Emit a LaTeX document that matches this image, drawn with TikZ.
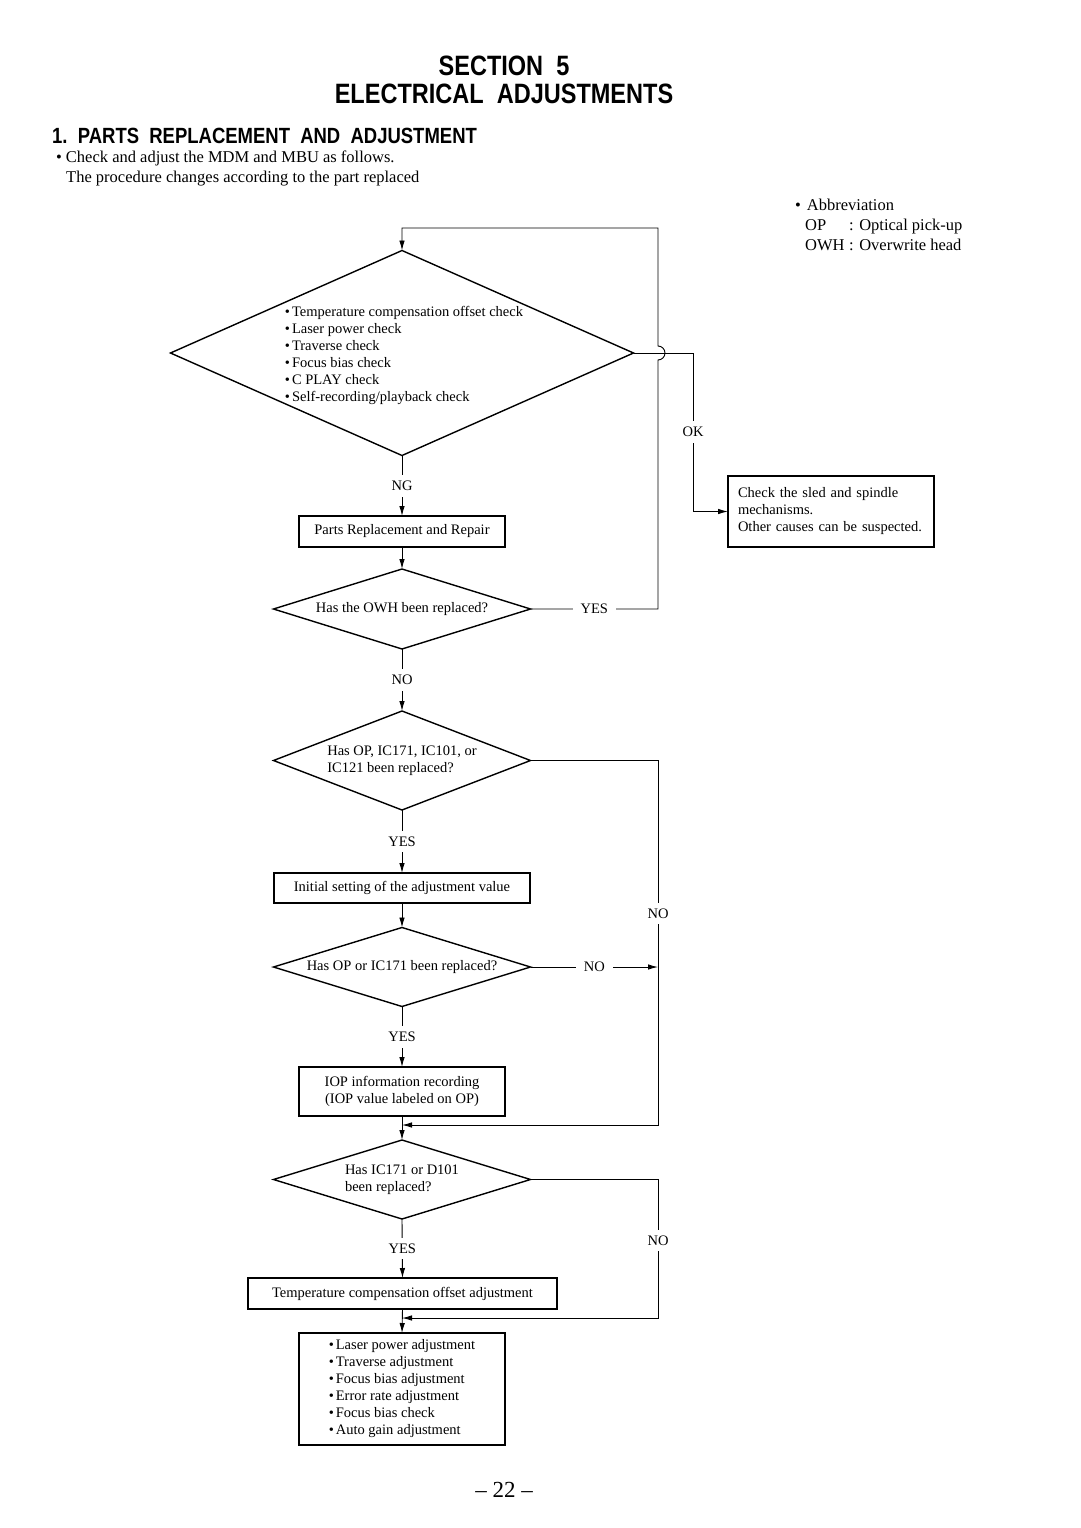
\documentclass[tikz,border=0pt]{standalone}
\usepackage{fontspec}
\setmainfont{Liberation Serif}
\newfontfamily\headfont[FakeStretch=0.84]{Liberation Sans}
\usepackage{tikz}
\usetikzlibrary{shapes.geometric}
\usetikzlibrary{arrows.meta}
\tikzstyle{box}=[draw, line width=1.4pt, inner sep=0, outer sep=0]
\tikzstyle{decision}=[draw, diamond, aspect=3.2, line width=1.4pt, inner sep=0, outer sep=0]
\tikzstyle{flow}=[line width=0.9pt, -{Latex[length=10pt,width=5.5pt]}]
\tikzstyle{gap}=[fill=white, inner xsep=8pt, inner ysep=6pt]
\tikzstyle{chart}=[x=1pt, y=-1pt, font=\fontsize{14.5}{17}\selectfont,
                   % plain text lines outside the chart
                   page/.style={font=\fontsize{16.5}{20}\selectfont, align=left, anchor=west, inner sep=0}]

\begin{document}
\begin{tikzpicture}[chart]
    \useasboundingbox (0,0) rectangle (1080,1528);
    \node[font=\headfont\bfseries\fontsize{28}{28}\selectfont] (sect) at (504,66) {SECTION\ \ 5};
    \node[font=\headfont\bfseries\fontsize{28}{28}\selectfont] (title) at (504,94) {ELECTRICAL\ \ ADJUSTMENTS};
    \node[font=\headfont\bfseries\fontsize{22}{22}\selectfont, anchor=west, inner sep=0] (head) at (52,136) {1.\ \ PARTS\ \ REPLACEMENT\ \ AND\ \ ADJUSTMENT};
    \node[page] (intro) at (56,168) {\textbullet\hspace{4pt}Check and adjust the MDM and MBU as follows.\\
        \hspace{10pt}The procedure changes according to the part replaced};
    \node[page] (abbr) at (795,225) {\textbullet\hspace{6pt}Abbreviation\\
        \hspace{10pt}\makebox[44pt][l]{OP}: Optical pick-up\\
        \hspace{10pt}\makebox[44pt][l]{OWH}: Overwrite head};

    \node[decision, minimum width=463, minimum height=205] (check) at (402,353) {};
    \node[align=left] (checklist) at (404,355) {\textbullet\hspace{2pt}Temperature compensation offset check\\
        \textbullet\hspace{2pt}Laser power check\\
        \textbullet\hspace{2pt}Traverse check\\
        \textbullet\hspace{2pt}Focus bias check\\
        \textbullet\hspace{2pt}C PLAY check\\
        \textbullet\hspace{2pt}Self-recording/playback check};
    \node[box, minimum width=206, minimum height=71, text width=186, align=left] (sled) at (831,511.5) {Check the sled and spindle\\mechanisms.\\Other causes can be suspected.};
    \node[box, minimum width=206, minimum height=31] (repair) at (402,531.5) {Parts Replacement and Repair};
    \node[decision, minimum width=257, minimum height=80] (owh) at (402,609) {Has the OWH been replaced?};
    \node[decision, minimum width=257, minimum height=99, align=left] (parts) at (402,760.5) {Has OP, IC171, IC101, or\\IC121 been replaced?};
    \node[box, minimum width=256, minimum height=30] (init) at (402,888) {Initial setting of the adjustment value};
    \node[decision, minimum width=257, minimum height=79] (opic) at (402,967) {Has OP or IC171 been replaced?};
    \node[box, minimum width=206, minimum height=49, align=center] (iop) at (402,1091.5) {IOP information recording\\(IOP value labeled on OP)};
    \node[decision, minimum width=257, minimum height=79, align=left] (diode) at (402,1179.5) {Has IC171 or D101\\been replaced?};
    \node[box, minimum width=309, minimum height=31] (tempadj) at (402.5,1293.5) {Temperature compensation offset adjustment};
    \node[box, minimum width=206, minimum height=112, align=left] (final) at (402,1389) {\textbullet\hspace{2pt}Laser power adjustment\\
        \textbullet\hspace{2pt}Traverse adjustment\\
        \textbullet\hspace{2pt}Focus bias adjustment\\
        \textbullet\hspace{2pt}Error rate adjustment\\
        \textbullet\hspace{2pt}Focus bias check\\
        \textbullet\hspace{2pt}Auto gain adjustment};
    \node[font=\fontsize{23}{23}\selectfont] (pageno) at (504,1490) {-- 22 --};

    \coordinate (loop) at (658,228);
    \coordinate (rail) at (658,0);
    \coordinate (okrail) at (693,0);
    \coordinate (join1) at (402,1125);
    \coordinate (join2) at (402,1318);

    \draw[flow] (check.south) -- node[gap] {NG} (repair.north);
    \draw[flow] (repair.south) -- (owh.north);
    \draw[flow] (owh.south) -- node[gap] {NO} (parts.north);
    \draw[flow] (parts.south) -- node[gap] {YES} (init.north);
    \draw[flow] (init.south) -- (opic.north);
    \draw[flow] (opic.south) -- node[gap] {YES} (iop.north);
    \draw[flow] (iop.south) -- (diode.north);
    \draw[flow] (diode.south) -- node[gap] {YES} (tempadj.north);
    \draw[flow] (tempadj.south) -- (final.north);

    \draw[flow] (check.east) -- (check.east -| okrail) -- node[gap] {OK} (okrail |- sled.west) -- (sled.west);
    \draw[flow] (owh.east) -- node[gap] {YES} (owh.east -| loop) -- ([yshift=-7pt]check.east -| loop)
        arc[start angle=90, end angle=-90, radius=7] -- (loop) -- (loop -| check.north) -- (check.north);
    \draw[flow] (parts.east) -- (parts.east -| rail) -- node[gap, pos=0.42] {NO} (rail |- join1) -- (join1);
    \draw[flow] (opic.east) -- node[gap] {NO} (opic.east -| rail);
    \draw[flow] (diode.east) -- (diode.east -| rail) -- node[gap, pos=0.44] {NO} (rail |- join2) -- (join2);
\end{tikzpicture}
\end{document}
